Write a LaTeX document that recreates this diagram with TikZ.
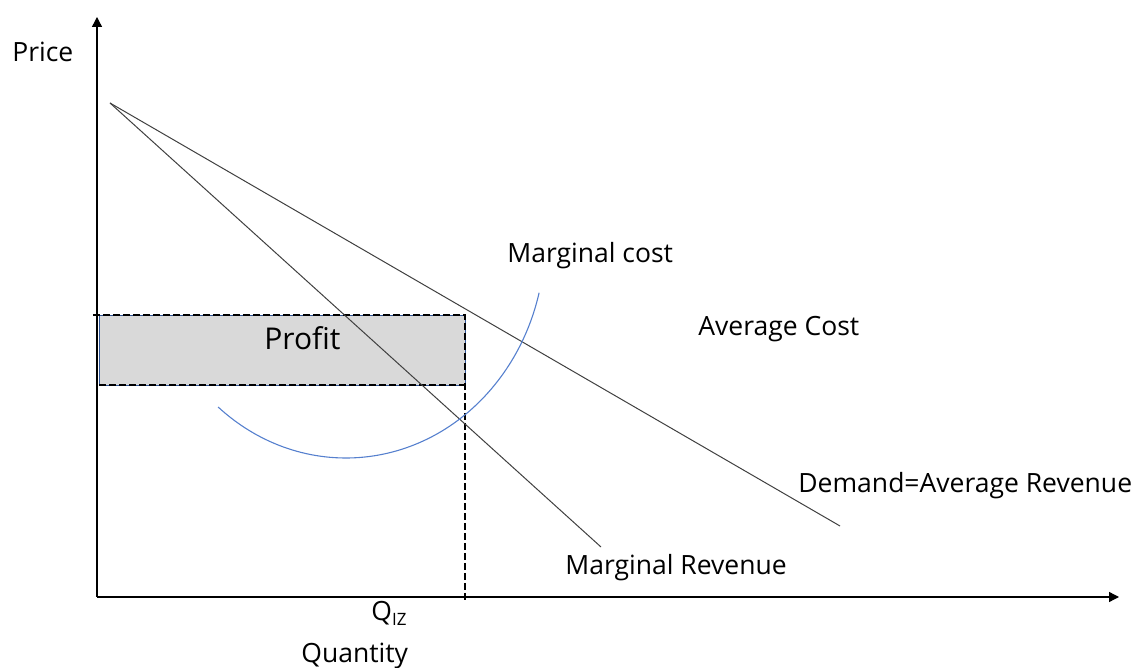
\documentclass[tikz,border=0pt]{standalone}
\usepackage{fontspec}
\setmainfont{Open Sans}
\usetikzlibrary{arrows.meta}

\definecolor{mcblue}{RGB}{86,128,206}
\definecolor{boxgray}{RGB}{217,217,217}
\definecolor{boxedge}{RGB}{47,85,151}
\definecolor{linegray}{RGB}{64,64,64}

\begin{document}
\begin{tikzpicture}[x=0.5pt,y=0.5pt,>={Triangle[length=5pt,width=5pt]},
                    every node/.style={inner sep=0pt,anchor=base west,
                                       font=\fontsize{13.25}{16}\selectfont},
                    axis/.style={line width=0.65pt},
                    curve/.style={line width=0.5pt,draw=linegray},
                    guide/.style={line width=1pt,dash pattern=on 3.5pt off 1.5pt}]
  \useasboundingbox (0,0) rectangle (1133,668);

  \coordinate (O)  at (97,71);
  \coordinate (Y)  at (97,651);
  \coordinate (X)  at (1119,71);
  \coordinate (T)  at (110,565);
  \coordinate (D)  at (840,142);
  \coordinate (MR) at (601,121);
  \coordinate (MC) at (346,428);
  % profit box corners and guide ends
  \coordinate (B1) at (99,283);
  \coordinate (B2) at (465,353);
  \coordinate (B3) at (465,283);
  \coordinate (G1) at (93,353);
  \coordinate (G2) at (465,65);

  \draw[axis,->] (O) -- (Y);
  \draw[axis,->] (O) -- (X);

  \fill[boxgray,draw=boxedge,line width=0.4pt] (B1) rectangle (B2);
  \draw[guide] (G1) -- (B2) -- (G2);
  \draw[guide] (B1) -- (B3);
  \node (profit) at (264,318) [font=\fontsize{15}{18}\selectfont] {Profit};

  \draw[curve] (T) -- (D);
  \draw[curve] (T) -- (MR);
  \draw[mcblue,line width=0.55pt] (MC) ++(230:199 and 218)
        arc[start angle=230,end angle=346,x radius=199,y radius=218];

  \node (price)  at (12,606)  {Price};
  \node (qty)    at (301,5)   {Quantity};
  \node (qiz)    at (371,47)  {Q\raisebox{-2.5pt}{\fontsize{8.5}{10}\selectfont IZ}};
  \node (mc)     at (507,405) {Marginal cost};
  \node (ac)     at (698,332) {Average Cost};
  \node (demand) at (798,175) {Demand=Average Revenue};
  \node (mr)     at (565,93)  {Marginal Revenue};
\end{tikzpicture}
\end{document}
